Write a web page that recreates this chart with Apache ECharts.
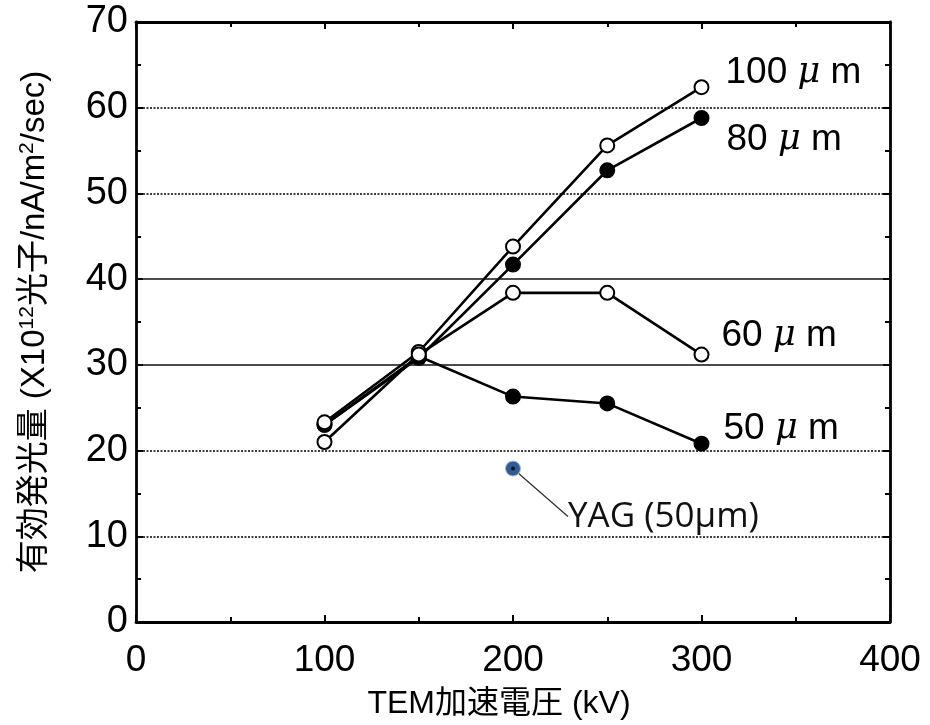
<!DOCTYPE html>
<html>
<head>
<meta charset="utf-8">
<script src="https://cdn.jsdelivr.net/npm/echarts@6/dist/echarts.min.js"></script>
<style>
html,body{margin:0;padding:0;background:#fff;}
#main{width:930px;height:725px;}
</style>
</head>
<body>
<div id="main"></div>
<script>
// ---- data ----
var voltages = [100, 150, 200, 250, 300];
var s100 = [23.3, 31.5, 43.8, 55.6, 62.4];
var s80  = [23.0, 30.8, 41.7, 52.7, 58.8];
var s60  = [21.0, 31.2, 38.4, 38.4, 31.2];
var s50  = [23.0, 31.0, 26.3, 25.5, 20.8];
var seriesNames = ['100', '80', '60', '50'];
var yagX = [200];
var yagY = [17.9];
var yagName = 'YAG (50μm)';
var xTicks = [0, 100, 200, 300, 400];
var yTicks = [0, 10, 20, 30, 40, 50, 60, 70];
var dottedGrid = [10, 20, 50, 60];
var solidGrid = [30, 40];

var chart = echarts.init(document.getElementById('main'));
var F = '"Liberation Sans", Arial, sans-serif';
var CJK = '"Liberation Sans", "Noto Sans CJK JP", sans-serif';

function pairs(ys) { return voltages.map(function (v, i) { return [v, ys[i]]; }); }

var labelOffsets = [[11, -14], [12, 22], [7, -19], [9, -15]];

function mkSeries(idx, ys, open) {
  var off = labelOffsets[idx];
  return {
    type: 'line',
    name: seriesNames[idx],
    data: pairs(ys),
    symbol: 'circle',
    symbolSize: 14,
    z: open ? 4 : 3,
    lineStyle: { color: '#000', width: 2.6 },
    itemStyle: { color: open ? '#fff' : '#000', borderColor: '#000', borderWidth: 2 },
    label: {
      show: true,
      position: 'right',
      offset: off,
      formatter: function (p) {
        return p.dataIndex === voltages.length - 1 ? '{n|' + seriesNames[idx] + ' }{mu|μ}{n| m}' : '';
      },
      rich: {
        n: { fontFamily: F, fontSize: 37, color: '#000' },
        mu: { fontFamily: '"DejaVu Serif", serif', fontStyle: 'italic', fontSize: 35, color: '#000' }
      }
    },
    animation: false
  };
}

var gridMarks = [];
dottedGrid.forEach(function (v) { gridMarks.push({ yAxis: v, lineStyle: { type: [2, 1.5], color: '#000', width: 1.6 } }); });
solidGrid.forEach(function (v) { gridMarks.push({ yAxis: v, lineStyle: { type: 'solid', color: '#111', width: 1.6 } }); });

var option = {
  backgroundColor: '#fff',
  animation: false,
  grid: { left: 136, top: 22, width: 754, height: 602, containLabel: false },
  xAxis: [{
    type: 'value', min: 0, max: 400, interval: 100,
    position: 'bottom',
    name: 'TEM加速電圧 (kV)', nameLocation: 'middle', nameGap: 66,
    nameTextStyle: { fontFamily: CJK, fontSize: 32, color: '#000', padding: [0, 28, 0, 0] },
    axisLine: { show: true, onZero: false, lineStyle: { color: '#000', width: 2.8 } },
    axisTick: { show: true, inside: true, length: 7, lineStyle: { color: '#000', width: 2 } },
    minorTick: { show: true, splitNumber: 2, length: 5, lineStyle: { color: '#000', width: 2 } },
    axisLabel: { fontFamily: F, fontSize: 37, color: '#000', margin: 20,
      formatter: function (v) { return xTicks.indexOf(v) >= 0 ? String(v) : ''; } },
    splitLine: { show: false }
  }, {
    type: 'value', min: 0, max: 400, interval: 100,
    position: 'top',
    axisLine: { show: true, onZero: false, lineStyle: { color: '#000', width: 2.8 } },
    axisTick: { show: true, inside: true, length: 7, lineStyle: { color: '#000', width: 2 } },
    minorTick: { show: true, splitNumber: 2, length: 5, lineStyle: { color: '#000', width: 2 } },
    axisLabel: { show: false },
    splitLine: { show: false }
  }],
  yAxis: [{
    type: 'value', min: 0, max: 70, interval: 10,
    position: 'left',
    name: '有効発光量 (X10{s|12}光子/nA/m{s|2}/sec)', nameLocation: 'middle', nameGap: 84, nameRotate: 90,
    nameTextStyle: { fontFamily: CJK, fontSize: 33, color: '#000',
      rich: { s: { fontFamily: F, fontSize: 21, color: '#000', verticalAlign: 'top', padding: [0, 0, 14, 0] } } },
    axisLine: { show: true, onZero: false, lineStyle: { color: '#000', width: 2.8 } },
    axisTick: { show: true, inside: true, length: 7, lineStyle: { color: '#000', width: 2 } },
    minorTick: { show: true, splitNumber: 2, length: 5, lineStyle: { color: '#000', width: 2 } },
    axisLabel: { fontFamily: F, fontSize: 38, color: '#000', margin: 8,
      formatter: function (v) { return yTicks.indexOf(v) >= 0 ? String(v) : ''; } },
    splitLine: { show: false }
  }, {
    type: 'value', min: 0, max: 70, interval: 10,
    position: 'right',
    axisLine: { show: true, onZero: false, lineStyle: { color: '#000', width: 2.8 } },
    axisTick: { show: true, inside: true, length: 7, lineStyle: { color: '#000', width: 2 } },
    minorTick: { show: true, splitNumber: 2, length: 5, lineStyle: { color: '#000', width: 2 } },
    axisLabel: { show: false },
    splitLine: { show: false }
  }],
  series: [
    {
      type: 'line', data: [], silent: true, z: 1,
      markLine: { silent: true, symbol: 'none', label: { show: false }, animation: false, data: gridMarks }
    },
    mkSeries(0, s100, true),
    mkSeries(1, s80, false),
    mkSeries(2, s60, true),
    mkSeries(3, s50, false),
    {
      type: 'scatter', name: 'YAG',
      data: yagX.map(function (x, i) { return [x, yagY[i]]; }),
      symbol: 'circle', symbolSize: 15, z: 5,
      itemStyle: { color: '#2f5c95', borderColor: '#a9bcd6', borderWidth: 1, opacity: 1 },
      label: {
        show: true, position: 'right', opacity: 1,
        formatter: function () { return '{t|' + yagName + '}'; },
        rich: { t: { fontFamily: '"Open Sans", Lato, sans-serif', fontSize: 35, color: '#111' } }
      },
      labelLayout: { dx: 42, dy: 48 },
      labelLine: { show: true, lineStyle: { color: '#333', width: 1.3, opacity: 1 } }
    },
    {
      type: 'scatter', name: 'YAGdot',
      data: yagX.map(function (x, i) { return [x, yagY[i]]; }),
      symbol: 'circle', symbolSize: 4, z: 6, silent: true,
      itemStyle: { color: '#111', opacity: 1 }
    }
  ]
};
chart.setOption(option);
</script>
</body>
</html>
